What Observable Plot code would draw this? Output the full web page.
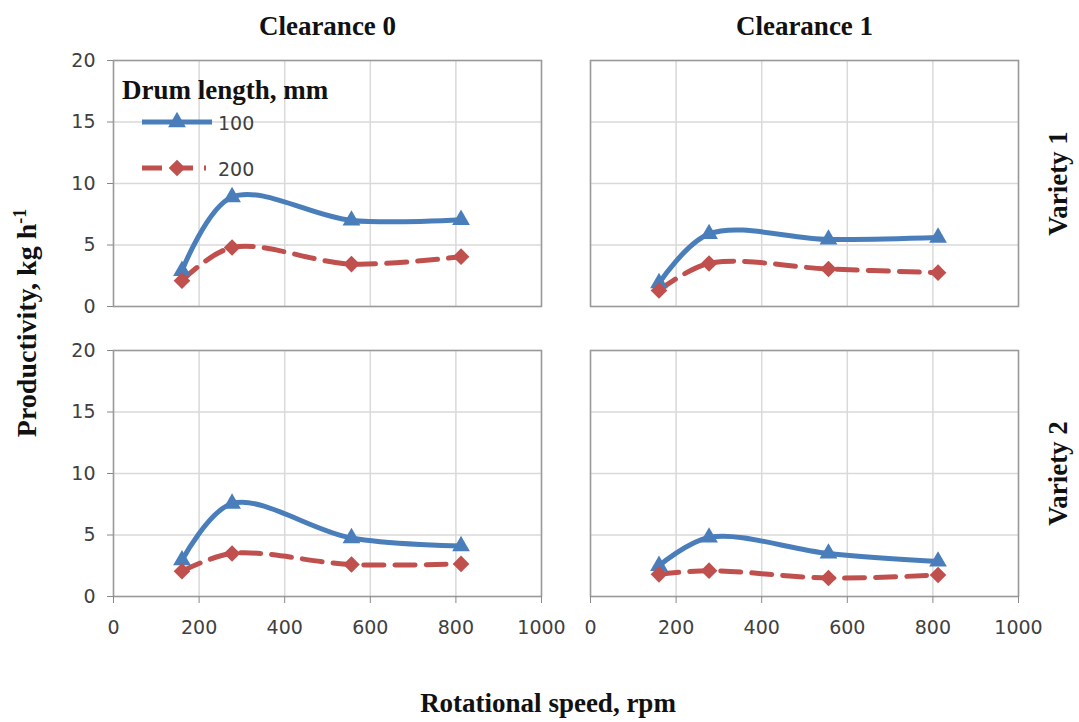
<!DOCTYPE html>
<html><head><meta charset="utf-8">
<script src="https://cdn.jsdelivr.net/npm/d3@7"></script>
<script src="https://cdn.jsdelivr.net/npm/@observablehq/plot@0.6"></script>
<style>
body{margin:0;background:#fff;}
#wrap{position:relative;width:1079px;height:722px;overflow:hidden;}
.lbl{position:absolute;font-family:"Liberation Serif",serif;font-weight:bold;font-size:27px;line-height:1;color:#111;white-space:nowrap;}
.leg{position:absolute;font-family:"DejaVu Sans",sans-serif;font-size:19px;line-height:1;color:#404040;white-space:nowrap;}
</style></head><body><div id="wrap"></div>
<script>
// ---- data ----
const speeds = [160, 277, 556, 812];             // rotational speed, rpm
const clearances = ["Clearance 0", "Clearance 1"];
const varieties = ["Variety 1", "Variety 2"];
const drumLengths = ["100", "200"];               // mm
const xTicks = [0, 200, 400, 600, 800, 1000];
const yTicks = [0, 5, 10, 15, 20];

const c0v1_100 = [2.9, 8.9, 7.0, 7.05];
const c0v1_200 = [2.1, 4.8, 3.45, 4.05];
const c1v1_100 = [1.9, 5.9, 5.45, 5.6];
const c1v1_200 = [1.3, 3.5, 3.05, 2.75];
const c0v2_100 = [2.95, 7.55, 4.75, 4.1];
const c0v2_200 = [2.05, 3.5, 2.6, 2.65];
const c1v2_100 = [2.5, 4.8, 3.5, 2.85];
const c1v2_200 = [1.8, 2.1, 1.5, 1.75];

const colors = ["#4a7ebb", "#c0504d"];

const series = [
  [clearances[0], varieties[0], drumLengths[0], c0v1_100],
  [clearances[0], varieties[0], drumLengths[1], c0v1_200],
  [clearances[1], varieties[0], drumLengths[0], c1v1_100],
  [clearances[1], varieties[0], drumLengths[1], c1v1_200],
  [clearances[0], varieties[1], drumLengths[0], c0v2_100],
  [clearances[0], varieties[1], drumLengths[1], c0v2_200],
  [clearances[1], varieties[1], drumLengths[0], c1v2_100],
  [clearances[1], varieties[1], drumLengths[1], c1v2_200]
];
const rows = [];
for (const [clearance, variety, drum, vals] of series)
  vals.forEach((v, i) => rows.push({clearance, variety, drum, speed: speeds[i], value: v}));

const serif = "Liberation Serif, serif";

const chart = Plot.plot({
  width: 1079, height: 722,
  marginLeft: 113, marginRight: 61, marginTop: 60, marginBottom: 126,
  style: {fontFamily: "DejaVu Sans, sans-serif", fontSize: "19px", color: "#404040", background: "white", overflow: "visible"},
  facet: {data: rows, x: "clearance", y: "variety"},
  fx: {domain: clearances, padding: 0.103},
  fy: {domain: varieties, padding: 0.152},
  x: {domain: [0, 1000]},
  y: {domain: [0, 20]},
  marks: [
    Plot.gridX({ticks: xTicks, stroke: "#d9d9d9", strokeOpacity: 1, strokeWidth: 1.5}),
    Plot.gridY({ticks: yTicks, stroke: "#d9d9d9", strokeOpacity: 1, strokeWidth: 1.5}),
    Plot.frame({stroke: "#9a9a9a", strokeWidth: 1.5}),
    Plot.axisX({ticks: xTicks, tickFormat: d => String(d), tickSize: 7, tickPadding: 17, label: null, stroke: "#888", fill: "#404040"}),
    Plot.axisY({ticks: yTicks, tickFormat: d => String(d), tickSize: 6, tickPadding: 12, label: null, stroke: "#888", fill: "#404040"}),
    Plot.axisFx({anchor: "top", tickSize: 0, tickPadding: 26, label: null, fontFamily: serif, fontWeight: "bold", fontSize: 27, fill: "#111"}),
    Plot.axisFy({anchor: "right", tickSize: 0, tickPadding: 48, tickRotate: -90, label: null, fontFamily: serif, fontWeight: "bold", fontSize: 27, fill: "#111"}),
    Plot.line(rows, {filter: d => d.drum === drumLengths[0], x: "speed", y: "value", stroke: colors[0], strokeWidth: 5, curve: "catmull-rom"}),
    Plot.line(rows, {filter: d => d.drum === drumLengths[1], x: "speed", y: "value", stroke: colors[1], strokeWidth: 5, strokeDasharray: "20,11", curve: "catmull-rom"}),
    Plot.dot(rows, {filter: d => d.drum === drumLengths[0], x: "speed", y: "value", symbol: "triangle", fill: colors[0], r: 6.6}),
    Plot.dot(rows, {filter: d => d.drum === drumLengths[1], x: "speed", y: "value", symbol: "diamond2", fill: colors[1], r: 7.5})
  ]
});
const wrap = document.getElementById("wrap");
wrap.appendChild(chart);

// axis titles
const yl = document.createElement("div");
yl.className = "lbl";
yl.style.fontSize = "28px";
yl.innerHTML = "Productivity, kg h<sup style='font-size:18px;vertical-align:10px'>-1</sup>";
yl.style.left = "26px"; yl.style.top = "323px";
yl.style.transform = "translate(-50%,-50%) rotate(-90deg)";
wrap.appendChild(yl);

const xl = document.createElement("div");
xl.className = "lbl";
xl.textContent = "Rotational speed, rpm";
xl.style.left = "548px"; xl.style.top = "703px";
xl.style.transform = "translate(-50%,-50%)";
wrap.appendChild(xl);

// legend
const lt = document.createElement("div");
lt.className = "lbl";
lt.textContent = "Drum length, mm";
lt.style.left = "122px"; lt.style.top = "77px";
wrap.appendChild(lt);

const sym = [d3.symbolTriangle, d3.symbolDiamond2];
drumLengths.forEach((name, i) => {
  const cy = [122, 168][i];
  const ns = "http://www.w3.org/2000/svg";
  const s = document.createElementNS(ns, "svg");
  s.setAttribute("width", 76); s.setAttribute("height", 20);
  s.style.position = "absolute"; s.style.left = "140px"; s.style.top = (cy - 10) + "px"; s.style.overflow = "visible";
  const ln = document.createElementNS(ns, "line");
  ln.setAttribute("x1", 2); ln.setAttribute("x2", i === 0 ? 72 : 66);
  ln.setAttribute("y1", 10); ln.setAttribute("y2", 10);
  ln.setAttribute("stroke", colors[i]); ln.setAttribute("stroke-width", 5);
  if (i === 1) ln.setAttribute("stroke-dasharray", "20,11");
  s.appendChild(ln);
  const p = document.createElementNS(ns, "path");
  p.setAttribute("d", d3.symbol(sym[i], Math.PI * (i === 0 ? 43.6 : 56))());
  p.setAttribute("transform", "translate(37,10)");
  p.setAttribute("fill", colors[i]);
  s.appendChild(p);
  wrap.appendChild(s);
  const t = document.createElement("div");
  t.className = "leg";
  t.textContent = name;
  t.style.left = "218px"; t.style.top = (cy - 8) + "px";
  wrap.appendChild(t);
});
</script>
</body></html>
